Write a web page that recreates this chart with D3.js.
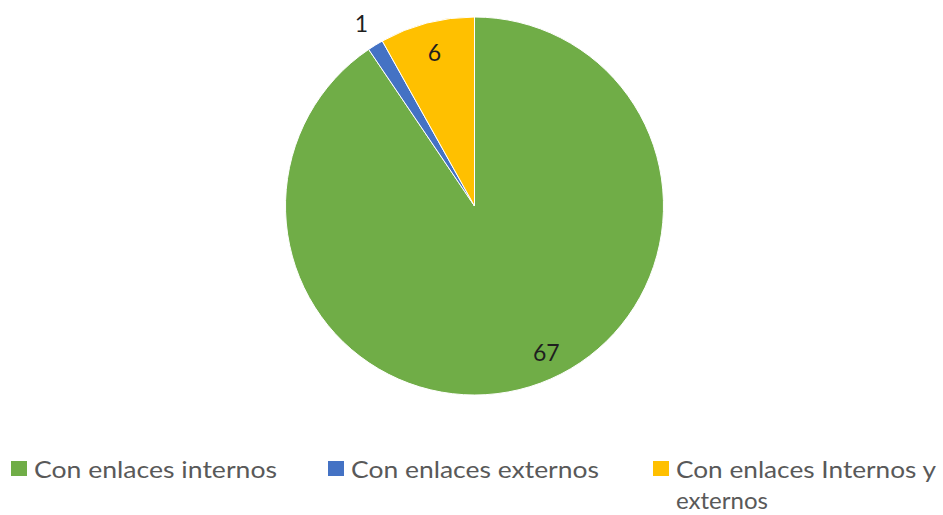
<!DOCTYPE html>
<html>
<head>
<meta charset="utf-8">
<script src="https://cdn.jsdelivr.net/npm/d3@7/dist/d3.min.js"></script>
<style>
  html, body { margin: 0; padding: 0; background: #fff; }
  svg { display: block; }
</style>
</head>
<body>
<svg id="chart" width="943" height="515"></svg>
<script>
// Pages grouped by the kind of links they contain
const categories = ["Con enlaces internos", "Con enlaces externos", "Con enlaces Internos y externos"];
const values = [67, 1, 6];
const colors = ["#70AD47", "#4472C4", "#FFC000"];

const svg = d3.select("#chart");
const cx = 474.5, cy = 206, r = 189;

const pie = d3.pie().sort(null).value(d => d)(values);
const arc = d3.arc().innerRadius(0).outerRadius(r);

const g = svg.append("g").attr("transform", `translate(${cx},${cy})`);

g.selectAll("path.slice")
  .data(pie)
  .join("path")
  .attr("class", "slice")
  .attr("d", arc)
  .attr("fill", (d, i) => colors[i])
  .attr("stroke", "#fff")
  .attr("stroke-width", 1);

// Data labels: inside for large slices, outside for the tiny one.
// Each label sits at a fraction of the radius, with a small angular nudge.
const labelRadius = [0.86, 1.14, 0.84];
const labelNudge = [-0.16, 0, 0];
g.selectAll("text.val")
  .data(pie)
  .join("text")
  .attr("class", "val")
  .attr("transform", (d, i) => {
    const a = (d.startAngle + d.endAngle) / 2 + labelNudge[i];
    const rr = r * labelRadius[i];
    return `translate(${Math.sin(a) * rr},${-Math.cos(a) * rr})`;
  })
  .attr("text-anchor", "middle")
  .attr("dominant-baseline", "central")
  .attr("font-family", "Lato, 'Open Sans', sans-serif")
  .attr("font-size", 23)
  .attr("fill", "#1f1f1f")
  .text(d => d.data);

// Legend
const legendFont = "Lato, 'Open Sans', sans-serif";
const legendItems = [
  { x: 11, lines: ["Con enlaces internos"], widths: [243] },
  { x: 328, lines: ["Con enlaces externos"], widths: [248] },
  { x: 653, lines: ["Con enlaces Internos y", "externos"], widths: [260, 92] }
];
const legend = svg.append("g");
legendItems.forEach((item, i) => {
  legend.append("rect")
    .attr("x", item.x).attr("y", 461)
    .attr("width", 16).attr("height", 15)
    .attr("fill", colors[i]);
  const t = legend.append("text")
    .attr("font-family", legendFont)
    .attr("font-size", 24)
    .attr("fill", "#595959");
  item.lines.forEach((ln, j) => {
    t.append("tspan")
      .attr("x", item.x + 23)
      .attr("y", 478 + j * 31)
      .attr("textLength", item.widths[j])
      .attr("lengthAdjust", "spacingAndGlyphs")
      .text(ln);
  });
});
</script>
</body>
</html>
